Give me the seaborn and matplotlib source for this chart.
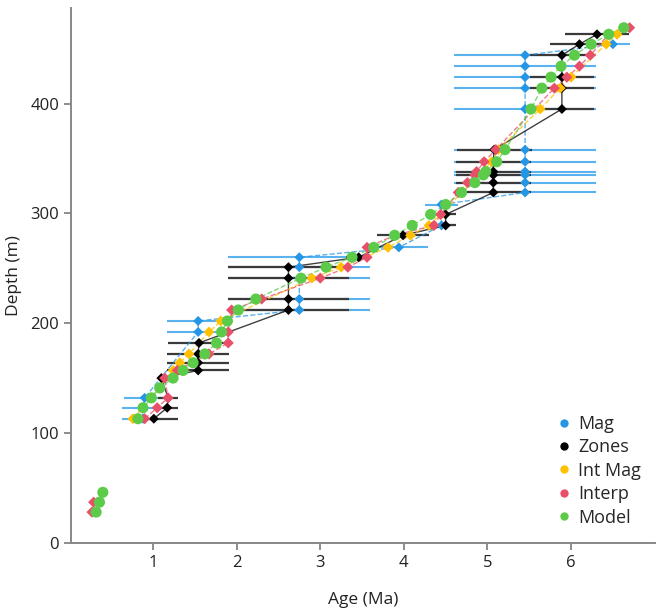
import numpy as np
import pandas as pd
import matplotlib
matplotlib.use("Agg")
import matplotlib.pyplot as plt
import seaborn as sns
from matplotlib.lines import Line2D

# ---------------- data ----------------
mag_age = [0.88, 0.88, 0.90, 1.54, 1.54, 2.75, 2.75, 2.75, 2.75, 2.75, 3.94, 4.45, 4.45,
           5.45, 5.45, 5.45, 5.45, 5.45, 5.45, 5.45, 5.45, 5.45, 5.45, 5.45, 6.50]
mag_depth = [113, 123, 132, 192, 202, 212, 222, 241, 251, 260, 269, 289, 308,
             319, 328, 335, 338, 347, 358, 395, 414, 424, 434, 444, 454]
mag_err = [0.25, 0.25, 0.25, 0.37, 0.37, 0.85, 0.85, 0.85, 0.85, 0.85, 0.35, 0.15, 0.2,
           0.85, 0.85, 0.85, 0.85, 0.85, 0.85, 0.85, 0.85, 0.85, 0.85, 0.85, 0.2]

zones_age = [1.01, 1.17, 1.18, 1.10, 1.54, 1.54, 1.54, 1.55, 2.62, 2.62, 2.62, 2.62, 3.46,
             3.99, 4.50, 4.50, 5.07, 5.07, 5.07, 5.07, 5.07, 5.08, 5.89, 5.89, 5.89, 5.89,
             6.10, 6.31]
zones_depth = [113, 123, 132, 150, 157, 164, 172, 182, 212, 222, 241, 251, 260,
               280, 289, 299, 319, 328, 335, 338, 347, 358, 395, 414, 424, 444,
               454, 463]
zones_err = [0.29, 0.13, 0.12, 0.03, 0.37, 0.37, 0.37, 0.37, 0.72, 0.72, 0.72, 0.72, 0.15,
             0.31, 0.12, 0.12, 0.45, 0.45, 0.45, 0.45, 0.45, 0.45, 0.38, 0.38, 0.38, 0.38,
             0.35, 0.38]

intmag_age = [0.76, 1.24, 1.32, 1.43, 1.67, 1.81, 2.90, 3.25, 3.81, 4.08, 4.30, 4.44,
              5.05, 5.13, 5.63, 5.87, 6.00, 6.42, 6.55]
intmag_depth = [113, 157, 164, 172, 192, 202, 241, 251, 269, 280, 289, 299,
                347, 358, 395, 414, 424, 454, 463]

interp_age = [0.27, 0.29, 0.90, 1.05, 1.18, 1.14, 1.29, 1.67, 1.90, 1.90, 1.94, 2.30,
              3.00, 3.33, 3.56, 3.56, 3.89, 4.36, 4.44, 4.65, 4.76, 4.85, 4.87, 4.96,
              5.10, 5.80, 5.95, 6.10, 6.23, 6.45, 6.70]
interp_depth = [28, 37, 113, 123, 132, 150, 157, 172, 182, 192, 212, 222,
                241, 251, 260, 269, 280, 289, 299, 319, 328, 335, 338, 347,
                358, 414, 424, 434, 444, 463, 469]

model_age = [0.32, 0.36, 0.40, 0.82, 0.88, 0.98, 1.08, 1.24, 1.36, 1.48, 1.62, 1.76,
             1.82, 1.89, 2.02, 2.23, 2.77, 3.07, 3.38, 3.64, 3.89, 4.10, 4.32, 4.50,
             4.69, 4.85, 4.95, 4.98, 5.11, 5.21, 5.52, 5.65, 5.76, 5.88, 6.04, 6.24,
             6.45, 6.63]
model_depth = [28, 37, 46, 113, 123, 132, 141, 150, 157, 164, 172, 182,
               192, 202, 212, 222, 241, 251, 260, 269, 280, 289, 299, 308,
               319, 328, 335, 338, 347, 358, 395, 414, 424, 434, 444, 454,
               463, 469]

labels = ["Mag", "Zones", "Int Mag", "Interp", "Model"]
colors = {"Mag": "#2596E6", "Zones": "#000000", "Int Mag": "#FFC000",
          "Interp": "#E8506A", "Model": "#5CCB4A"}
errcolors = {"Mag": "#5AB2EE", "Zones": "#3A3A3A"}

# ---------------- figure ----------------
sns.set_theme(style="white")
plt.rcParams["font.family"] = ["Open Sans", "DejaVu Sans"]

fig = plt.figure(figsize=(6.64, 6.12), dpi=100)
ax = fig.add_axes([0.107, 0.113, 0.879, 0.874])

series = {
    "Mag": (mag_age, mag_depth),
    "Zones": (zones_age, zones_depth),
    "Int Mag": (intmag_age, intmag_depth),
    "Interp": (interp_age, interp_depth),
    "Model": (model_age, model_depth),
}

# error bars
ax.errorbar(mag_age, mag_depth, xerr=mag_err, fmt="none", ecolor=errcolors["Mag"],
            elinewidth=1.5, zorder=1)
ax.errorbar(zones_age, zones_depth, xerr=zones_err, fmt="none", ecolor=errcolors["Zones"],
            elinewidth=1.6, zorder=1.5)

# connecting lines (shallow cluster is not joined to the main section)
for i, name in enumerate(labels):
    a, d = series[name]
    df = pd.DataFrame({"age": a, "depth": d})
    df["seg"] = (df["depth"] > 100).astype(int)
    ls = "-" if name == "Zones" else "--"
    sns.lineplot(data=df, x="age", y="depth", units="seg", sort=False, estimator=None,
                 ax=ax, color=colors[name], linewidth=1.0, linestyle=ls, alpha=0.75,
                 zorder=2 + i * 0.1, legend=False)

# markers
markers = {"Mag": "D", "Zones": "D", "Int Mag": "D", "Interp": "D", "Model": "o"}
sizes = {"Mag": 26, "Zones": 26, "Int Mag": 30, "Interp": 32, "Model": 64}
for i, name in enumerate(labels):
    a, d = series[name]
    df = pd.DataFrame({"age": a, "depth": d})
    sns.scatterplot(data=df, x="age", y="depth", ax=ax, color=colors[name],
                    marker=markers[name], s=sizes[name], edgecolor="none",
                    zorder=3 + i, legend=False)

ax.set_xlim(0.02, 7.0)
ax.set_ylim(0, 487)
ax.set_xticks([1, 2, 3, 4, 5, 6])
ax.set_yticks([0, 100, 200, 300, 400])
ax.set_xlabel("Age (Ma)", fontsize=12.5, color="#222222")
ax.set_ylabel("Depth (m)", fontsize=12.5, color="#222222")
ax.xaxis.set_label_coords(0.5, -0.092)
ax.yaxis.set_label_coords(-0.084, 0.5)
ax.tick_params(axis="both", direction="out", length=5, width=1.2, color="#7a7a7a",
               labelsize=12, labelcolor="#222222", bottom=True, left=True)
sns.despine(ax=ax)
for sp in ["left", "bottom"]:
    ax.spines[sp].set_color("#888888")
    ax.spines[sp].set_linewidth(1.4)

handles = [Line2D([0], [0], marker="o", linestyle="none", markersize=6,
                  markerfacecolor=colors[n], markeredgecolor="none", label=n)
           for n in labels]
ax.legend(handles=handles, loc="lower right", bbox_to_anchor=(1.005, 0.0),
          frameon=False, fontsize=13, handletextpad=0.3, labelspacing=0.3,
          handlelength=1.0)

fig.savefig("out.png", dpi=100)
